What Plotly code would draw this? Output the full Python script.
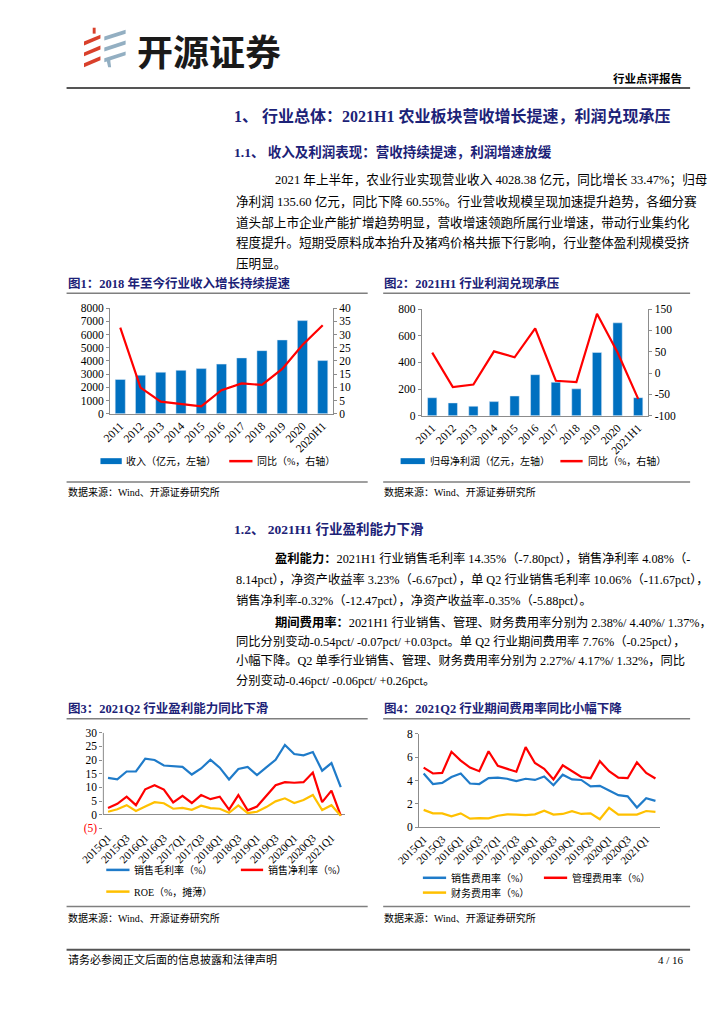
import plotly.graph_objects as go

W, H = 724, 1024

# ---------------- data ----------------
years1 = ["2011", "2012", "2013", "2014", "2015", "2016", "2017", "2018", "2019", "2020", "2020H1"]
revenue = [2600, 2920, 3145, 3290, 3420, 3760, 4230, 4780, 5590, 7055, 4028]
revenue_yoy = [32.6, 9.9, 4.6, 3.7, 2.8, 8.9, 11.5, 10.9, 17.0, 26.0, 33.5]

years2 = ["2011", "2012", "2013", "2014", "2015", "2016", "2017", "2018", "2019", "2020", "2021H1"]
profit = [135, 96, 71, 106, 148, 308, 251, 202, 475, 697, 135.6]
profit_yoy = [48, -33, -27, 51, 37, 105, -18, -21, 139, 48, -60.6]

quarters = ["2015Q1", "2015Q2", "2015Q3", "2015Q4", "2016Q1", "2016Q2", "2016Q3", "2016Q4",
            "2017Q1", "2017Q2", "2017Q3", "2017Q4", "2018Q1", "2018Q2", "2018Q3", "2018Q4",
            "2019Q1", "2019Q2", "2019Q3", "2019Q4", "2020Q1", "2020Q2", "2020Q3", "2020Q4",
            "2021Q1", "2021Q2"]
quarter_ticks = ["2015Q1", "2015Q3", "2016Q1", "2016Q3", "2017Q1", "2017Q3", "2018Q1", "2018Q3",
                 "2019Q1", "2019Q3", "2020Q1", "2020Q3", "2021Q1"]

gross_margin = [13.5, 12.9, 15.8, 15.8, 20.5, 20.0, 18.0, 17.7, 17.5, 14.7, 16.9, 20.1, 17.2,
                12.9, 16.7, 17.5, 14.5, 17.3, 20.1, 25.5, 22.2, 21.7, 22.9, 16.1, 18.9, 10.06]
net_margin = [2.5, 4.0, 6.6, 3.5, 9.3, 10.8, 9.2, 4.5, 6.9, 4.3, 7.2, 5.7, 6.6,
              1.9, 7.2, 1.6, 3.0, 6.9, 10.8, 11.9, 11.7, 11.9, 15.4, 4.6, 8.8, -0.32]
roe = [1.1, 2.0, 3.5, 1.4, 3.0, 4.6, 4.2, 2.2, 2.5, 1.8, 3.3, 2.4, 2.2,
       0.7, 3.4, 0.6, 1.1, 2.8, 4.9, 6.0, 4.3, 5.4, 7.2, 1.7, 3.5, -0.35]

sell_exp = [4.6, 3.7, 3.8, 4.3, 4.6, 3.75, 3.7, 4.2, 4.25, 4.15, 3.95, 4.15, 4.05,
            4.35, 3.6, 4.5, 4.1, 4.05, 3.5, 3.55, 3.15, 2.75, 2.65, 1.7, 2.5, 2.27]
admin_exp = [5.1, 4.6, 4.65, 6.45, 5.7, 5.1, 4.8, 6.5, 5.25, 5.0, 4.75, 6.85, 5.5,
             5.0, 4.1, 5.3, 4.8, 4.3, 4.2, 5.65, 4.8, 4.25, 4.2, 5.55, 4.65, 4.17]
fin_exp = [1.5, 1.2, 1.2, 0.95, 1.2, 0.75, 0.8, 0.77, 1.0, 1.12, 1.1, 1.05, 1.12,
           1.43, 1.1, 1.15, 1.38, 1.15, 1.2, 0.7, 1.67, 1.1, 1.1, 1.1, 1.4, 1.32]

# ---------------- styles ----------------
SERIF = "Liberation Serif, Times New Roman, Noto Sans CJK SC, serif"
CJK = "Liberation Serif, Noto Sans CJK SC, sans-serif"
NAVY = "#1c2277"
BAR_BLUE = "#0070C0"
LINE_BLUE = "#1F7BC9"
RED = "#FF0000"
YELLOW = "#FFC000"
AXIS = "#8c8c8c"
TICKF = dict(family=SERIF, size=11.5, color="#000")


def fx(x):
    return x / W


def fy(y):
    return 1 - y / H


fig = go.Figure()

# ---------------- traces ----------------
fig.add_trace(go.Bar(x=years1, y=revenue, marker_color=BAR_BLUE, width=0.5,
                     xaxis="x", yaxis="y", name="收入（亿元，左轴）", showlegend=False))
fig.add_trace(go.Scatter(x=years1, y=revenue_yoy, mode="lines", line=dict(color=RED, width=2.2),
                         xaxis="x", yaxis="y2", name="同比（%，右轴）", showlegend=False))

fig.add_trace(go.Bar(x=years2, y=profit, marker_color=BAR_BLUE, width=0.45,
                     xaxis="x2", yaxis="y3", name="归母净利润（亿元，左轴）", showlegend=False))
fig.add_trace(go.Scatter(x=years2, y=profit_yoy, mode="lines", line=dict(color=RED, width=2.2),
                         xaxis="x2", yaxis="y4", name="同比（%，右轴）", showlegend=False))

for vals, col, nm in [(gross_margin, LINE_BLUE, "销售毛利率（%）"),
                      (net_margin, RED, "销售净利率（%）"),
                      (roe, YELLOW, "ROE（%，摊薄）")]:
    fig.add_trace(go.Scatter(x=quarters, y=vals, mode="lines", line=dict(color=col, width=2.2),
                             xaxis="x3", yaxis="y5", name=nm, showlegend=False))

for vals, col, nm in [(sell_exp, LINE_BLUE, "销售费用率（%）"),
                      (admin_exp, RED, "管理费用率（%）"),
                      (fin_exp, YELLOW, "财务费用率（%）")]:
    fig.add_trace(go.Scatter(x=quarters, y=vals, mode="lines", line=dict(color=col, width=2.2),
                             xaxis="x4", yaxis="y6", name=nm, showlegend=False))

# ---------------- axes ----------------
common_x = dict(type="category", tickangle=-45, tickfont=TICKF, showgrid=False,
                showline=True, linecolor=AXIS, linewidth=1, ticks="", zeroline=False)
common_y = dict(tickfont=TICKF, showgrid=False, showline=True, linecolor=AXIS, linewidth=1,
                ticks="outside", ticklen=3, tickcolor=AXIS, zeroline=False)

fig.update_layout(
    # chart 1
    xaxis=dict(common_x, domain=[fx(90), fx(320)], range=[-0.5, 10.5], anchor="y"),
    yaxis=dict(common_y, domain=[fy(413), fy(306)], range=[0, 8000], dtick=1000, anchor="x"),
    yaxis2=dict(common_y, range=[0, 40], dtick=5, overlaying="y", side="right", anchor="x"),
    # chart 2
    xaxis2=dict(common_x, domain=[fx(412), fx(646)], range=[-0.5, 10.5], anchor="y3"),
    yaxis3=dict(common_y, domain=[fy(415), fy(307)], range=[0, 800], dtick=200, anchor="x2"),
    yaxis4=dict(common_y, range=[-100, 150], overlaying="y3", side="right", anchor="x2",
                tickvals=[-100, -50, 0, 50, 100, 150],
                ticktext=["-100", "-50", "0", "50", "100", "150"]),
    # chart 3
    xaxis3=dict(common_x, domain=[fx(83), fx(333)], range=[-0.5, 25.5], anchor="y5",
                showline=False, tickvals=quarter_ticks, tickfont=dict(family=SERIF, size=11, color="#000")),
    yaxis5=dict(common_y, domain=[fy(833), fy(736)], range=[-5, 30], anchor="x3",
                showline=False, zeroline=True, zerolinecolor=AXIS, zerolinewidth=1,
                tickvals=[-5, 0, 5, 10, 15, 20, 25, 30],
                ticktext=['<span style="color:#FF0000">(5)</span>', "0", "5", "10", "15", "20", "25", "30"]),
    # chart 4
    xaxis4=dict(common_x, domain=[fx(409), fx(658)], range=[-0.5, 25.5], anchor="y6",
                tickvals=quarter_ticks, tickfont=dict(family=SERIF, size=11, color="#000")),
    yaxis6=dict(common_y, domain=[fy(832), fy(737)], range=[0, 8], dtick=2, anchor="x4"),
)

shapes = []
# chart 3 left axis line (0..30)
shapes.append(dict(type="line", xref="x3 domain", yref="y5", x0=0, x1=0, y0=0, y1=30,
                   line=dict(color=AXIS, width=1)))


def hline(x0, x1, y, color="#7f7f7f", width=1.5):
    shapes.append(dict(type="line", xref="paper", yref="paper", x0=fx(x0), x1=fx(x1),
                       y0=fy(y), y1=fy(y), line=dict(color=color, width=width)))


def poly(points, color):
    d = "M " + " L ".join(f"{fx(a):.5f},{fy(b):.5f}" for a, b in points) + " Z"
    shapes.append(dict(type="path", xref="paper", yref="paper", path=d,
                       fillcolor=color, line=dict(width=0)))


# header
hline(45, 689, 83, color="#555555", width=2)
# logo
LR = "#D9402B"
LB = "#93AFC2"
poly([(72, 22), (75, 22), (75, 28), (72, 28)], LR)
for yc in (33, 44, 55):
    poly([(63, yc + 3), (80, yc - 4), (80, yc), (63, yc + 7)], LR)
for yc in (28, 39, 50):
    poly([(84, yc + 3), (106, yc - 4), (106, yc), (84, yc + 7)], LB)
poly([(86, 54), (90, 54), (91, 62), (88, 62)], LB)

# figure title lines and source lines
for (a, b) in [(45, 356), (372, 689)]:
    hline(a, b, 291)
    hline(a, b, 482)
    hline(a, b, 722)
    hline(a, b, 912)
# footer
hline(45, 689, 956, color="#555555", width=2)


# legends (manual swatches)
def leg_line(x0, x1, y, color):
    shapes.append(dict(type="line", xref="paper", yref="paper", x0=fx(x0), x1=fx(x1),
                       y0=fy(y), y1=fy(y), line=dict(color=color, width=2.5)))


def leg_rect(x0, x1, y, color):
    shapes.append(dict(type="rect", xref="paper", yref="paper", x0=fx(x0), x1=fx(x1),
                       y0=fy(y + 3), y1=fy(y - 3), fillcolor=color, line=dict(width=0)))


leg_rect(80, 102, 461, BAR_BLUE)
leg_line(213, 237, 461, RED)
leg_rect(390, 415, 461, BAR_BLUE)
leg_line(555, 578, 461, RED)
leg_line(86, 110, 875, LINE_BLUE)
leg_line(225, 248, 875, RED)
leg_line(86, 110, 897, YELLOW)
leg_line(413, 437, 883, LINE_BLUE)
leg_line(538, 562, 883, RED)
leg_line(413, 437, 898, YELLOW)

fig.update_layout(shapes=shapes)


def text(s, x, y, size=13, color="#000", bold=False, anchor="left", family=CJK):
    fig.add_annotation(x=fx(x), y=fy(y), xref="paper", yref="paper",
                       text=("<b>" + s + "</b>" if bold else s), showarrow=False,
                       xanchor=anchor, yanchor="middle",
                       font=dict(size=size, color=color, family=family))


# header texts
text("开源证券", 116, 45, size=36, color="#1a1a1a", bold=True, family="Noto Sans CJK SC")
text("行业点评报告", 683, 73, size=11.5, bold=True, anchor="right")

# headings
text("1、 行业总体：2021H1 农业板块营收增长提速，利润兑现承压", 216, 111, size=16, color=NAVY, bold=True)
text("1.1、 收入及利润表现：营收持续提速，利润增速放缓", 216, 148, size=13.5, color=NAVY, bold=True)

para1 = [
    (258, "2021 年上半年，农业行业实现营业收入 4028.38 亿元，同比增长 33.47%；归母"),
    (218, "净利润 135.60 亿元，同比下降 60.55%。行业营收规模呈现加速提升趋势，各细分赛"),
    (218, "道头部上市企业产能扩增趋势明显，营收增速领跑所属行业增速，带动行业集约化"),
    (218, "程度提升。短期受原料成本抬升及猪鸡价格共振下行影响，行业整体盈利规模受挤"),
    (218, "压明显。"),
]
for i, (x, s) in enumerate(para1):
    text(s, x, 177 + 21 * i, size=12.6)

# figure titles
text("图1：2018 年至今行业收入增长持续提速", 44, 281, size=12.5, color=NAVY, bold=True)
text("图2：2021H1 行业利润兑现承压", 371, 281, size=12.5, color=NAVY, bold=True)
text("数据来源：Wind、开源证券研究所", 44, 492, size=10)
text("数据来源：Wind、开源证券研究所", 371, 492, size=10)

# legend texts
text("收入（亿元，左轴）", 104, 461, size=10)
text("同比（%，右轴）", 240, 461, size=10)
text("归母净利润（亿元，左轴）", 418, 461, size=10)
text("同比（%，右轴）", 581, 461, size=10)
text("销售毛利率（%）", 113, 875, size=10)
text("销售净利率（%）", 251, 875, size=10)
text("ROE（%，摊薄）", 113, 897, size=10)
text("销售费用率（%）", 440, 883, size=10)
text("管理费用率（%）", 565, 883, size=10)
text("财务费用率（%）", 440, 898, size=10)

# section 1.2
text("1.2、 2021H1 行业盈利能力下滑", 216, 530, size=13.5, color=NAVY, bold=True)
para2 = [
    (258, "<b>盈利能力：</b>2021H1 行业销售毛利率 14.35%（-7.80pct），销售净利率 4.08%（-"),
    (218, "8.14pct），净资产收益率 3.23%（-6.67pct），单 Q2 行业销售毛利率 10.06%（-11.67pct），"),
    (218, "销售净利率-0.32%（-12.47pct），净资产收益率-0.35%（-5.88pct）。"),
]
for i, (x, s) in enumerate(para2):
    text(s, x, 560 + 21 * i, size=12.3)
para3 = [
    (258, "<b>期间费用率：</b>2021H1 行业销售、管理、财务费用率分别为 2.38%/ 4.40%/ 1.37%，"),
    (218, "同比分别变动-0.54pct/ -0.07pct/ +0.03pct。单 Q2 行业期间费用率 7.76%（-0.25pct），"),
    (218, "小幅下降。Q2 单季行业销售、管理、财务费用率分别为 2.27%/ 4.17%/ 1.32%，同比"),
    (218, "分别变动-0.46pct/ -0.06pct/ +0.26pct。"),
]
for i, (x, s) in enumerate(para3):
    text(s, x, 624 + 19.7 * i, size=12.3)

text("图3：2021Q2 行业盈利能力同比下滑", 44, 712, size=12.5, color=NAVY, bold=True)
text("图4：2021Q2 行业期间费用率同比小幅下降", 371, 712, size=12.5, color=NAVY, bold=True)
text("数据来源：Wind、开源证券研究所", 44, 924, size=10)
text("数据来源：Wind、开源证券研究所", 371, 924, size=10)

# footer
text("请务必参阅正文后面的信息披露和法律声明", 44, 966, size=11)
text("4 / 16", 685, 966, size=11, anchor="right")

fig.update_layout(width=W, height=H, margin=dict(l=0, r=0, t=0, b=0),
                  paper_bgcolor="white", plot_bgcolor="white", showlegend=False)

fig.write_html("out.html", config={"displayModeBar": False},
               post_script="document.body.style.margin='0px';")
